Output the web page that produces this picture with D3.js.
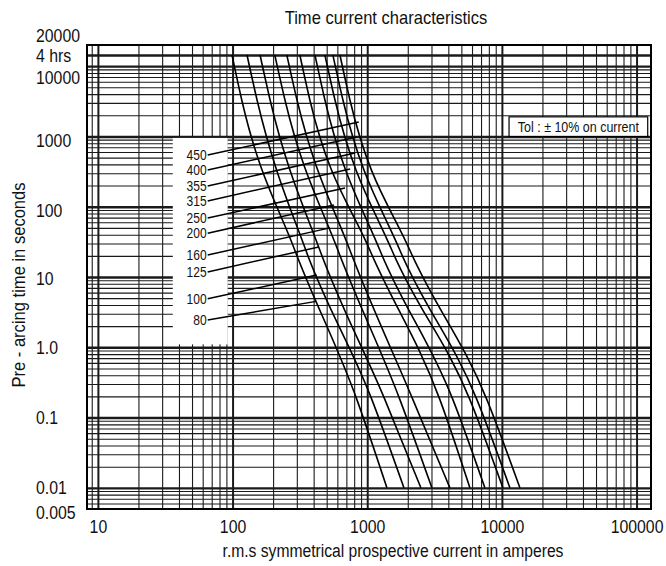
<!DOCTYPE html>
<html><head><meta charset="utf-8">
<script src="https://cdn.jsdelivr.net/npm/d3@7"></script>
<style>html,body{margin:0;padding:0;background:#fff;}svg{display:block}</style>
</head><body><svg id="c" width="666" height="566"></svg>
<script>
// ---------- data ----------
const ratings = [80, 100, 125, 160, 200, 250, 315, 355, 400, 450];
const curveTimes = [14400, 3300, 24, 0.18, 0.01];
const curve80  = [99, 117, 290, 838, 1400];
const curve100 = [128, 152, 350, 1083, 1873];
const curve125 = [160, 190, 445, 1353, 2503];
const curve160 = [206, 245, 606, 1748, 3021];
const curve200 = [253, 301, 744, 2184, 4110];
const curve250 = [316, 375, 1047, 3464, 5785];
const curve315 = [409, 485, 1242, 4326, 7475];
const curve355 = [485, 576, 1525, 5785, 10170];
const curve400 = [556, 660, 1748, 6522, 11466];
const curve450 = [627, 744, 2074, 7736, 13600];
const curveCurrents = [curve80, curve100, curve125, curve160, curve200, curve250, curve315, curve355, curve400, curve450];
const labelTimes = [2.45, 4.9, 11.8, 20.6, 42, 69, 121, 197, 333, 545];
const leaderEndTimes = [4.5, 10.7, 26.8, 50, 106, 185, 344, 582, 982, 1600];
const yTickValues = [20000, 14400, 10000, 1000, 100, 10, 1, 0.1, 0.01, 0.005];
const yTickLabels = ["20000", "4 hrs", "10000", "1000", "100", "10", "1.0", "0.1", "0.01", "0.005"];
const xTickValues = [10, 100, 1000, 10000, 100000];
const xTickLabels = ["10", "100", "1000", "10000", "100000"];
const labelBoxCurrents = [36, 92];
const labelBoxTimes = [1.1, 1000];
const tolBoxCurrents = [11300, 121000];
const tolBoxTimes = [1000, 1900];
const titleText = "Time current characteristics";
const xTitleText = "r.m.s symmetrical prospective current in amperes";
const yTitleText = "Pre - arcing time in seconds";
const tolText = "Tol : \u00b1 10% on current";

// ---------- layout ----------
const L = 87, R = 651, T = 45, B = 509;
const FONT = '"Liberation Sans", Arial, Helvetica, sans-serif';
const x = d3.scaleLog().domain([8.3, 128000]).range([L, R]);
const y = d3.scaleLog().domain([0.005, 20000]).range([B, T]);
const svg = d3.select('#c');

function txt(g, px, py, s, size, anchor, sx, rot) {
  return g.append('text')
    .attr('transform', `translate(${px},${py})` + (rot ? ` rotate(${rot})` : '') + ` scale(${sx},1)`)
    .attr('text-anchor', anchor).attr('font-family', FONT).attr('font-size', size)
    .attr('fill', '#111').text(s);
}

// grid values
const gxMinor = [], gxMajor = [], gyMinor = [], gyMajor = [];
for (let e = 0; e <= 5; e++) for (let k = 1; k <= 9; k++) {
  const v = +(k * Math.pow(10, e)).toPrecision(3);
  if (v > 8.3 && v < 128000) (k === 1 ? gxMajor : gxMinor).push(v);
}
for (let e = -3; e <= 4; e++) for (let k = 1; k <= 9; k++) {
  const v = +(k * Math.pow(10, e)).toPrecision(3);
  if (v > 0.005 && v < 20000) (k === 1 ? gyMajor : gyMinor).push(v);
}

function gridX(vals, w) {
  svg.append('g').attr('transform', `translate(0,${B})`)
    .call(d3.axisBottom(x).tickValues(vals).tickSize(-(B - T)).tickFormat(''))
    .call(g => g.select('.domain').remove())
    .selectAll('line').attr('stroke', '#1a1a1a').attr('stroke-width', w);
}
function gridY(vals, w) {
  svg.append('g').attr('transform', `translate(${L},0)`)
    .call(d3.axisLeft(y).tickValues(vals).tickSize(-(R - L)).tickFormat(''))
    .call(g => g.select('.domain').remove())
    .selectAll('line').attr('stroke', '#1a1a1a').attr('stroke-width', w);
}
gridX(gxMinor, 1.1);
gridY(gyMinor, 1.1);
gridX(gxMajor, 2);
gridY(gyMajor, 2.4);
gridY([14400], 2.4);

// white boxes
svg.append('rect')
  .attr('x', x(labelBoxCurrents[0])).attr('y', y(labelBoxTimes[1]) + 1.5)
  .attr('width', x(labelBoxCurrents[1]) - x(labelBoxCurrents[0]))
  .attr('height', y(labelBoxTimes[0]) - y(labelBoxTimes[1]) - 1.5)
  .attr('fill', '#fff');

// curves
const line = d3.line().x(d => x(d[0])).y(d => y(d[1])).curve(d3.curveMonotoneX);
curveCurrents.forEach(cs => {
  const pts = cs.map((c, j) => [c, curveTimes[j]]);
  svg.append('path').attr('d', line(pts)).attr('fill', 'none')
    .attr('stroke', '#000').attr('stroke-width', 1.6);
});

function currentAt(cs, t) {
  const lt = Math.log10(t);
  for (let j = 0; j < curveTimes.length - 1; j++) {
    const a = Math.log10(curveTimes[j]), b = Math.log10(curveTimes[j + 1]);
    if (lt <= a && lt >= b) {
      const f = (a - lt) / (a - b);
      return Math.pow(10, Math.log10(cs[j]) + f * (Math.log10(cs[j + 1]) - Math.log10(cs[j])));
    }
  }
  return cs[0];
}

// leaders + labels
const labelRight = x(labelBoxCurrents[1]) - 21;
ratings.forEach((r, i) => {
  const ly = y(labelTimes[i]);
  const ex = x(currentAt(curveCurrents[i], leaderEndTimes[i]));
  const ey = y(leaderEndTimes[i]);
  svg.append('line').attr('x1', labelRight + 1).attr('y1', ly)
    .attr('x2', ex).attr('y2', ey).attr('stroke', '#000').attr('stroke-width', 1.5);
  txt(svg, labelRight, ly + 5, String(r), 14, 'end', 0.86);
});

// tolerance box
const tb = svg.append('g');
tb.append('rect')
  .attr('x', x(tolBoxCurrents[0])).attr('y', y(tolBoxTimes[1]))
  .attr('width', x(tolBoxCurrents[1]) - x(tolBoxCurrents[0]))
  .attr('height', y(tolBoxTimes[0]) - y(tolBoxTimes[1]))
  .attr('fill', '#fff').attr('stroke', '#000').attr('stroke-width', 1.2);
txt(tb, (x(tolBoxCurrents[0]) + x(tolBoxCurrents[1])) / 2,
  (y(tolBoxTimes[0]) + y(tolBoxTimes[1])) / 2 + 5, tolText, 14, 'middle', 0.89);

// border
svg.append('rect').attr('x', L).attr('y', T).attr('width', R - L).attr('height', B - T)
  .attr('fill', 'none').attr('stroke', '#000').attr('stroke-width', 2);

// y tick labels (axis, then restyled)
const yNudge = {20000: -10, 10000: 11, 1000: 4, 100: 4, 10: 1, 0.005: 3};
const yAx = svg.append('g').attr('transform', `translate(${L},0)`)
  .call(d3.axisLeft(y).tickValues(yTickValues).tickSize(0)
    .tickFormat((d, i) => yTickLabels[i]));
yAx.select('.domain').remove();
yAx.selectAll('.tick text')
  .attr('x', null).attr('dy', null)
  .attr('text-anchor', 'start')
  .attr('font-family', FONT).attr('font-size', 18).attr('fill', '#111')
  .attr('transform', d => `translate(${36 - L},${6 + (yNudge[d] || 0)}) scale(0.88,1)`);

// x tick labels
const xAx = svg.append('g').attr('transform', `translate(0,${B})`)
  .call(d3.axisBottom(x).tickValues(xTickValues).tickSize(0)
    .tickFormat((d, i) => xTickLabels[i]));
xAx.select('.domain').remove();
xAx.selectAll('.tick text')
  .attr('y', null).attr('dy', null)
  .attr('font-family', FONT).attr('font-size', 18).attr('fill', '#111')
  .attr('transform', 'translate(0,24) scale(0.88,1)');

// titles
txt(svg, 386, 24, titleText, 18, 'middle', 0.92);
txt(svg, 393, 557, xTitleText, 18, 'middle', 0.87);
txt(svg, 25, 285, yTitleText, 18, 'middle', 0.92, -90);
</script>
</body></html>
